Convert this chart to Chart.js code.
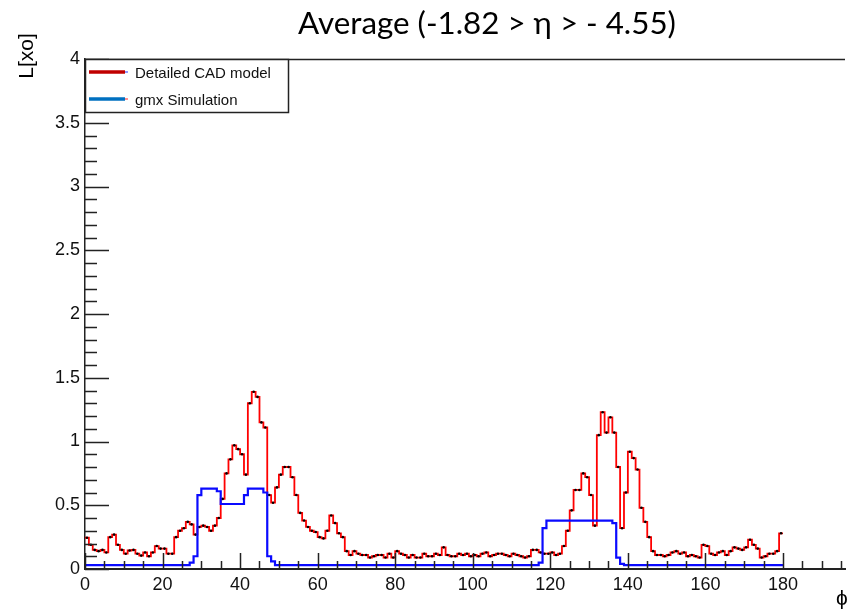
<!DOCTYPE html>
<html>
<head>
<meta charset="utf-8">
<script src="https://cdn.jsdelivr.net/npm/chart.js@4.4.1/dist/chart.umd.min.js"></script>
<style>
  html, body { margin: 0; padding: 0; background: #fff; overflow: hidden; }
  #wrap { position: relative; width: 849px; height: 610px; }
</style>
</head>
<body>
<div id="wrap"><canvas id="chart"></canvas></div>
<script>
// Material budget L[xo] versus phi, 1-degree bins starting at phi = 0
const binWidth = 1;

const cadModel = [
  0.245, 0.19, 0.15, 0.14, 0.15, 0.13, 0.25, 0.27, 0.19, 0.15,
  0.12, 0.145, 0.15, 0.12, 0.105, 0.13, 0.10, 0.13, 0.18, 0.16,
  0.16, 0.12, 0.12, 0.25, 0.30, 0.32, 0.37, 0.35, 0.27, 0.33,
  0.34, 0.33, 0.30, 0.34, 0.40, 0.55, 0.75, 0.86, 0.97, 0.94,
  0.90, 0.74, 1.30, 1.39, 1.35, 1.15, 1.11, 0.58, 0.52, 0.64,
  0.74, 0.80, 0.80, 0.72, 0.58, 0.44, 0.38, 0.33, 0.30, 0.29,
  0.25, 0.24, 0.30, 0.42, 0.36, 0.28, 0.25, 0.14, 0.11, 0.14,
  0.12, 0.11, 0.11, 0.09, 0.10, 0.11, 0.11, 0.09, 0.12, 0.09,
  0.14, 0.12, 0.11, 0.09, 0.11, 0.09, 0.09, 0.12, 0.10, 0.10,
  0.12, 0.11, 0.17, 0.11, 0.10, 0.10, 0.12, 0.11, 0.12, 0.10,
  0.11, 0.10, 0.12, 0.13, 0.10, 0.11, 0.12, 0.12, 0.11, 0.10,
  0.12, 0.11, 0.10, 0.09, 0.10, 0.15, 0.15, 0.13, 0.12, 0.12,
  0.13, 0.11, 0.12, 0.18, 0.30, 0.46, 0.62, 0.62, 0.75, 0.72,
  0.58, 0.34, 1.05, 1.23, 1.07, 1.19, 1.07, 0.80, 0.32, 0.60,
  0.92, 0.87, 0.78, 0.48, 0.37, 0.25, 0.14, 0.11, 0.11, 0.10,
  0.11, 0.13, 0.14, 0.12, 0.13, 0.10, 0.11, 0.10, 0.09, 0.19,
  0.18, 0.12, 0.11, 0.13, 0.14, 0.11, 0.14, 0.17, 0.16, 0.15,
  0.17, 0.23, 0.19, 0.16, 0.09, 0.10, 0.12, 0.12, 0.14, 0.28
];

const gmxSimulation = [
  0.03, 0.03, 0.03, 0.03, 0.03, 0.03, 0.03, 0.03, 0.03, 0.03,
  0.03, 0.03, 0.03, 0.03, 0.03, 0.03, 0.03, 0.03, 0.03, 0.03,
  0.03, 0.03, 0.03, 0.03, 0.03, 0.03, 0.03, 0.05, 0.10, 0.58,
  0.63, 0.63, 0.63, 0.63, 0.61, 0.51, 0.51, 0.51, 0.51, 0.51,
  0.51, 0.58, 0.63, 0.63, 0.63, 0.63, 0.60, 0.10, 0.06, 0.03,
  0.03, 0.03, 0.03, 0.03, 0.03, 0.03, 0.03, 0.03, 0.03, 0.03,
  0.03, 0.03, 0.03, 0.03, 0.03, 0.03, 0.03, 0.03, 0.03, 0.03,
  0.03, 0.03, 0.03, 0.03, 0.03, 0.03, 0.03, 0.03, 0.03, 0.03,
  0.03, 0.03, 0.03, 0.03, 0.03, 0.03, 0.03, 0.03, 0.03, 0.03,
  0.03, 0.03, 0.03, 0.03, 0.03, 0.03, 0.03, 0.03, 0.03, 0.03,
  0.03, 0.03, 0.03, 0.03, 0.03, 0.03, 0.03, 0.03, 0.03, 0.03,
  0.03, 0.03, 0.03, 0.03, 0.03, 0.03, 0.03, 0.05, 0.32, 0.38,
  0.38, 0.38, 0.38, 0.38, 0.38, 0.38, 0.38, 0.38, 0.38, 0.38,
  0.38, 0.38, 0.38, 0.38, 0.38, 0.38, 0.36, 0.09, 0.04, 0.03,
  0.03, 0.03, 0.03, 0.03, 0.03, 0.03, 0.03, 0.03, 0.03, 0.03,
  0.03, 0.03, 0.03, 0.03, 0.03, 0.03, 0.03, 0.03, 0.03, 0.03,
  0.03, 0.03, 0.03, 0.03, 0.03, 0.03, 0.03, 0.03, 0.03, 0.03,
  0.03, 0.03, 0.03, 0.03, 0.03, 0.03, 0.03, 0.03, 0.03, 0.03
];

const xTicks = [0, 20, 40, 60, 80, 100, 120, 140, 160, 180];
const xTickLabels = ['0', '20', '40', '60', '80', '100', '120', '140', '160', '180'];
const yTicks = [0, 0.5, 1, 1.5, 2, 2.5, 3, 3.5, 4];
const yTickLabels = ['0', '0.5', '1', '1.5', '2', '2.5', '3', '3.5', '4'];
const seriesNames = ['Detailed CAD model', 'gmx Simulation'];
const titleText = 'Average (-1.82 > \u03b7 > - 4.55)';
const yTitle = 'L[xo]';
const xTitle = '\u03d5';

// histogram outline: one point per lower bin edge plus the closing edge
function histPoints(values) {
  const pts = values.map((v, i) => ({ x: i * binWidth, y: v }));
  pts.push({ x: values.length * binWidth, y: values[values.length - 1] });
  return pts;
}
const binCentres = cadModel.map((v, i) => ({ x: (i + 0.5) * binWidth, y: v }));

const INK = '#222';

// ROOT-style frame: top edge, inward tick marks, legend box, titles
const rootFrame = {
  id: 'rootFrame',
  afterDraw(chart) {
    const { ctx, chartArea: a, scales: { x, y } } = chart;
    ctx.save();
    ctx.strokeStyle = INK;
    ctx.lineWidth = 1.5;
    ctx.beginPath();
    ctx.moveTo(a.left, a.top + 0.5);
    ctx.lineTo(a.right, a.top + 0.5);
    ctx.stroke();

    // y ticks: major every 0.5, minor every 0.1
    ctx.beginPath();
    for (let i = 0; i <= 40; i++) {
      const py = Math.round(y.getPixelForValue(i / 10)) + 0.5;
      const len = i % 5 === 0 ? 24 : 12;
      ctx.moveTo(a.left, py);
      ctx.lineTo(a.left + len, py);
    }
    // x ticks: major every 20, minor every 5
    for (let v = 0; v <= x.max; v += 5) {
      const px = Math.round(x.getPixelForValue(v)) + 0.5;
      const len = v % 20 === 0 ? 16 : 8;
      ctx.moveTo(px, a.bottom);
      ctx.lineTo(px, a.bottom - len);
    }
    ctx.stroke();

    // legend
    const lx = a.left, ly = a.top, lw = 203, lh = 53;
    ctx.fillStyle = '#fff';
    ctx.fillRect(lx + 1, ly + 1, lw - 1, lh - 1);
    ctx.strokeStyle = INK;
    ctx.lineWidth = 1.5;
    ctx.strokeRect(lx + 0.5, ly + 0.5, lw, lh);
    const rows = [
      { y: ly + 13, text: seriesNames[0], color: '#c00000', tip: '#2233ff', base: ly + 18.5 },
      { y: ly + 40, text: seriesNames[1], color: '#0070c0', tip: '#ff2222', base: ly + 45.5 }
    ];
    rows.forEach(r => {
      ctx.strokeStyle = r.color;
      ctx.lineWidth = 3.5;
      ctx.beginPath();
      ctx.moveTo(lx + 4, r.y);
      ctx.lineTo(lx + 40, r.y);
      ctx.stroke();
      ctx.strokeStyle = r.tip;
      ctx.lineWidth = 1;
      ctx.beginPath();
      ctx.moveTo(lx + 40, r.y);
      ctx.lineTo(lx + 43, r.y);
      ctx.stroke();
      ctx.fillStyle = '#111';
      ctx.font = '15px "Liberation Sans", Arial, sans-serif';
      ctx.textAlign = 'left';
      ctx.textBaseline = 'alphabetic';
      ctx.fillText(r.text, lx + 50, r.base);
    });

    // chart title
    ctx.fillStyle = '#000';
    ctx.font = '32px Lato, "Open Sans", sans-serif';
    const w = ctx.measureText(titleText).width;
    const size = 32 * 378 / w;
    ctx.font = size.toFixed(2) + 'px Lato, "Open Sans", sans-serif';
    ctx.textAlign = 'center';
    ctx.textBaseline = 'alphabetic';
    ctx.fillText(titleText, 487, 34);

    // axis titles
    ctx.font = '21px "Liberation Sans", Arial, sans-serif';
    ctx.save();
    ctx.translate(33, 56);
    ctx.rotate(-Math.PI / 2);
    ctx.textAlign = 'center';
    ctx.textBaseline = 'alphabetic';
    ctx.fillText(yTitle, 0, 0);
    ctx.restore();
    ctx.font = '21px "Liberation Sans", Arial, sans-serif';
    ctx.textAlign = 'center';
    ctx.fillText(xTitle, 842, 605);
    ctx.restore();
  }
};

const tickFont = { family: '"Liberation Sans", Arial, sans-serif', size: 18 };

new Chart(document.getElementById('chart'), {
  type: 'line',
  data: {
    datasets: [
      {
        label: seriesNames[1],
        data: histPoints(gmxSimulation),
        stepped: true,
        borderColor: '#0a0aff',
        borderWidth: 2.2,
        pointRadius: 0,
        fill: false,
        order: 0
      },
      {
        label: 'errors',
        data: binCentres,
        showLine: false,
        pointRadius: 1.3,
        pointBackgroundColor: '#000',
        pointBorderWidth: 0,
        order: 1
      },
      {
        label: seriesNames[0],
        data: histPoints(cadModel),
        stepped: true,
        borderColor: '#ff0000',
        borderWidth: 1.8,
        pointRadius: 0,
        fill: false,
        order: 2
      }
    ]
  },
  options: {
    responsive: true,
    maintainAspectRatio: false,
    animation: false,
    events: [],
    layout: { padding: { top: 59, left: 0, right: 0, bottom: 0 } },
    plugins: {
      legend: { display: false },
      tooltip: { enabled: false },
      title: { display: false }
    },
    scales: {
      x: {
        type: 'linear',
        position: 'bottom',
        min: 0,
        max: 196,
        grid: { display: false, drawTicks: false },
        border: { display: true, color: INK, width: 2 },
        ticks: {
          font: tickFont, color: '#111', padding: 5, maxRotation: 0, autoSkip: false,
          callback: (v, i) => xTickLabels[i]
        },
        afterBuildTicks: s => { s.ticks = xTicks.map(v => ({ value: v })); },
        afterFit: s => { s.height = 41; }
      },
      y: {
        type: 'linear',
        min: 0,
        max: 4,
        grid: { display: false, drawTicks: false },
        border: { display: true, color: INK, width: 1.5 },
        ticks: {
          font: tickFont, color: '#111', padding: 5, autoSkip: false,
          callback: (v, i) => yTickLabels[i]
        },
        afterBuildTicks: s => { s.ticks = yTicks.map(v => ({ value: v })); },
        afterFit: s => { s.width = 85; }
      }
    }
  },
  plugins: [rootFrame]
});
</script>
</body>
</html>
